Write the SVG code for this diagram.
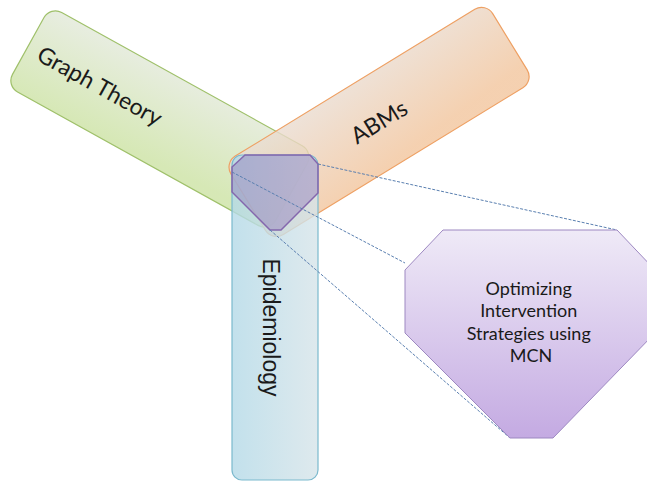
<svg xmlns="http://www.w3.org/2000/svg" width="647" height="483" viewBox="0 0 647 483">
<defs>
<linearGradient id="gGreen" x1="0" y1="0" x2="0.15" y2="1">
<stop offset="0" stop-color="#e4eadc"/>
<stop offset="1" stop-color="#cfe4a9"/>
</linearGradient>
<linearGradient id="gOrange" x1="0" y1="0" x2="0.3" y2="1">
<stop offset="0" stop-color="#e9ddd3"/>
<stop offset="1" stop-color="#f2c59d"/>
</linearGradient>
<linearGradient id="gBlue" x1="0" y1="0" x2="1" y2="0">
<stop offset="0" stop-color="#b3d9e7"/>
<stop offset="1" stop-color="#d6e4e9"/>
</linearGradient>
<linearGradient id="gPurple" x1="0" y1="0" x2="0" y2="1">
<stop offset="0" stop-color="#efeaf7"/>
<stop offset="1" stop-color="#c4aae2"/>
</linearGradient>
<style>
.band{stroke-width:1.2}
.lbl{font-family:Lato,"Liberation Sans",sans-serif;fill:#1a1a1a}
.dash{fill:none;stroke:#5a7fb0;stroke-width:1;stroke-dasharray:3 1.5}
</style>
</defs>
<g id="node-graph-theory">
<rect class="band" x="47" y="-19" width="301" height="91" rx="13" transform="rotate(29)" fill="url(#gGreen)" fill-opacity="0.85" stroke="#9fc06a"/>
<text class="lbl" x="129" y="35" font-size="23" text-anchor="middle" transform="rotate(29)">Graph Theory</text>
</g>
<g id="node-abms">
<rect class="band" x="106" y="256" width="307" height="92" rx="13" transform="rotate(-31.5)" fill="url(#gOrange)" fill-opacity="0.8" stroke="#eea063"/>
<text class="lbl" x="259.5" y="310" font-size="23" text-anchor="middle" transform="rotate(-31.5)">ABMs</text>
</g>
<g id="node-epidemiology">
<rect class="band" x="232" y="155" width="86" height="325" rx="10" fill="url(#gBlue)" fill-opacity="0.8" stroke="#7bb9cd"/>
<text x="0" y="0" font-family="'Liberation Sans',Arial,sans-serif" font-size="23" fill="#1a1a1a" text-anchor="middle" transform="translate(263,327.5) rotate(90)">Epidemiology</text>
</g>
<g id="node-intersection">
<polygon points="245,155 310,155 318,164 318,193 281,230 270,230 232,192 232,167" fill="#8a6fb5" fill-opacity="0.4" stroke="#8467ad" stroke-width="1.5"/>
</g>
<g id="connectors">
<line class="dash" x1="318" y1="164" x2="617" y2="230"/>
<line class="dash" x1="232" y1="172" x2="405" y2="263"/>
<line class="dash" x1="270" y1="230" x2="510" y2="438"/>
</g>
<g id="node-mcn">
<polygon points="443,230 617,230 655,270 655,333 553,438 510,438 405,333 405,270" fill="url(#gPurple)" stroke="#9d88c1" stroke-width="1"/>
<text class="lbl" font-size="18" text-anchor="middle">
<tspan x="531" y="295">Optimizing</tspan>
<tspan x="531" y="317">Intervention</tspan>
<tspan x="531" y="340">Strategies using</tspan>
<tspan x="531" y="362">MCN</tspan>
</text>
</g>
</svg>
